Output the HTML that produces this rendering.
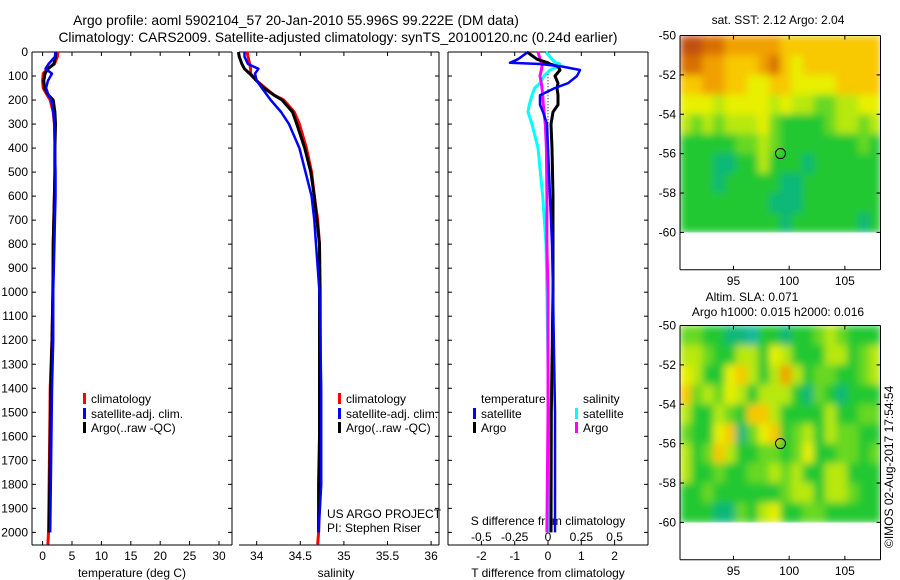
<!DOCTYPE html>
<html><head><meta charset="utf-8"><style>
body{margin:0;background:#fff}
svg{display:block;font-family:"Liberation Sans",sans-serif}
text{font-size:12px;fill:#000}
</style></head><body>
<svg id="fig" width="900" height="580" viewBox="0 0 900 580" xmlns="http://www.w3.org/2000/svg">
<defs>
<filter id="blur" x="0" y="0" width="1" height="1"><feGaussianBlur stdDeviation="4" edgeMode="duplicate"/></filter>
<clipPath id="clipTop"><rect x="680" y="35.5" width="200.5" height="197"/></clipPath>
<clipPath id="clipBot"><rect x="680" y="325.5" width="200.5" height="197"/></clipPath>
</defs>
<text x="296" y="25" text-anchor="middle" style="font-size:13.8px">Argo profile: aoml 5902104_57 20-Jan-2010 55.996S 99.222E (DM data)</text>
<text x="338" y="42" text-anchor="middle" style="font-size:13.8px">Climatology: CARS2009. Satellite-adjusted climatology: synTS_20100120.nc (0.24d earlier)</text>
<g id="g"></g>
</svg>
<script>
// ---------- data ----------
const depths = [0,20,50,70,90,120,150,180,200,250,300,400,500,600,700,800,1000,1200,1400,1600,1800,2000,2050];
const tempClim = [2.6,2.5,2.0,0.8,0.1,0.0,0.1,0.8,1.3,1.8,2.0,2.1,2.1,2.0,1.9,1.8,1.75,1.6,1.3,1.2,1.1,1.0,0.9];
const tempArgo = [2.2,2.2,1.9,0.9,0.4,0.2,0.3,1.0,1.8,2.1,2.2,2.1,2.1,2.0,1.9,1.8,1.75,1.6,1.4,1.3,1.2,1.1,null];
const tempSat  = [2.2,2.1,1.0,0.5,1.6,0.9,0.6,1.0,1.5,1.8,2.0,2.1,2.2,2.2,2.1,2.0,1.8,1.8,1.6,1.5,1.4,1.3,null];
const salClim = [33.89,33.9,33.92,33.93,33.93,34.0,34.1,34.2,34.31,34.43,34.49,34.57,34.63,34.66,34.70,34.72,34.73,34.73,34.73,34.73,34.72,34.71,34.70];
const salArgo = [33.79,33.8,33.83,33.86,33.92,34.0,34.08,34.2,34.29,34.41,34.46,34.55,34.62,34.66,34.69,34.72,34.72,34.72,34.72,34.72,34.71,34.71,null];
const salSat  = [33.86,33.86,33.9,34.02,33.98,34.0,34.06,34.12,34.16,34.28,34.37,34.49,34.56,34.63,34.66,34.68,34.72,34.73,34.74,34.74,34.74,34.71,null];
const diffDepths = [0,30,45,50,60,75,100,130,150,180,220,250,300,400,600,800,1000,1500,2000];
const dTsat  = [-0.6,-0.9,-1.14,-0.24,0.4,0.96,0.87,0.6,0.21,-0.24,-0.24,-0.15,-0.03,0,0.06,0.12,0.15,0.21,0.21];
const dTargo = [-0.63,-0.33,0.0,0.06,0.3,0.36,0.21,0.3,0.27,0.3,0.3,0.15,0.09,0.12,0.15,0.15,0.15,0.1,0.09];
const dSsat  = [-0.015,0.03,0.06,0.09,0.08,0.015,-0.03,-0.06,-0.1,-0.12,-0.14,-0.15,-0.12,-0.075,-0.04,-0.015,-0.008,0.005,0.008];
const dSargo = [-0.075,-0.06,-0.05,-0.045,-0.045,-0.05,-0.06,-0.05,-0.045,-0.04,-0.035,-0.03,-0.02,-0.012,-0.008,-0.008,0,0,-0.008];
const depthTicks = [0,100,200,300,400,500,600,700,800,900,1000,1100,1200,1300,1400,1500,1600,1700,1800,1900,2000];
const tempTicks = [0,5,10,15,20,25,30];
const salTicks = [34,34.5,35,35.5,36];
const salTickLabels = ["34","34.5","35","35.5","36"];
const tdTicks = [-2,-1,0,1,2];
const sdTicks = [-0.5,-0.25,0,0.25,0.5];
const sdTickLabels = ["-0.5","-0.25","0","0.25","0.5"];
const lonTicks = [95,100,105];
const latTicks = [-50,-52,-54,-56,-58,-60];
// SST map colour levels (rows -50 -> -60, cols 90.2 -> 108.2)
const sstGrid = [
[10,10,9,9,8,8,8,8,8,7,7,7,7,7,7,7,7,7],
[9,9,8,8,7,7,7,8,9,7,6,7,7,7,7,7,7,7],
[7,7,8,8,7,7,6,6,7,7,6,6,6,6,7,7,7,7],
[6,6,6,5,6,6,6,6,5,6,5,5,4,4,5,5,6,6],
[5,4,5,4,5,5,5,6,4,3,3,3,3,4,5,5,4,5],
[3,3,3,3,3,4,4,5,4,3,3,3,3,3,3,3,4,3],
[3,3,3,2,2,3,3,5,3,3,3,2,3,3,3,3,3,3],
[3,3,3,2,3,3,3,3,3,2,2,3,3,3,3,3,3,3],
[3,3,3,3,3,3,3,3,2,2,2,3,3,3,3,3,3,3],
[3,3,3,3,3,3,3,3,3,2,3,3,3,3,3,3,2,3]];
const slaGrid = [
[4,4,3,3,2,2,1,3,3,2,3,3,4,5,4,3,3,3],
[5,5,4,3,3,5,5,3,6,5,3,3,3,5,5,3,4,5],
[6,5,3,3,6,7,5,3,5,8,5,3,4,4,3,3,4,5],
[7,4,5,4,6,5,3,5,5,5,3,2,4,3,2,3,3,3],
[5,3,3,5,4,3,7,7,5,3,3,3,3,5,3,3,4,4],
[4,3,3,6,7,2,4,6,7,3,4,5,3,5,4,4,3,3],
[5,3,4,7,5,3,3,4,4,3,4,6,3,3,4,4,3,4],
[5,3,3,4,3,3,4,4,5,4,5,3,3,5,5,3,3,3],
[3,3,4,3,3,3,3,3,3,4,5,5,3,5,5,4,3,3],
[3,3,3,2,2,4,3,5,6,3,3,4,4,3,3,3,3,3]];
const floatLon = 99.222, floatLat = -55.996;

// ---------- helpers ----------
const NS="http://www.w3.org/2000/svg";
const G=document.getElementById('g');
function mk(tag,attrs,parent){const e=document.createElementNS(NS,tag);for(const k in attrs)e.setAttribute(k,attrs[k]);(parent||G).appendChild(e);return e;}
function txt(x,y,s,anchor,name){const t=mk('text',{x:x,y:y,'text-anchor':anchor||'start'});t.textContent=s;


return t;}
const Y=d=>52+d*0.2402;
const xT=v=>42.6+v*5.88;
const xS=v=>256.7+(v-34)*87.2;
const xD=v=>548+v*33.3;     // T difference
const xSD=v=>548+v*133.3;   // S difference
function line(x1,y1,x2,y2,name,w){const l=mk('line',{x1,y1,x2,y2,stroke:'#000','stroke-width':w||1});


return l;}
function profile(vals,ds,xf,color,w,name){
  const pts=[];vals.forEach((v,i)=>{if(v!==null)pts.push(xf(v).toFixed(1)+','+Y(ds[i]).toFixed(1));});
  const p=mk('polyline',{points:pts.join(' '),fill:'none',stroke:color,'stroke-width':w,'stroke-linejoin':'round'});
  
  
}
// ---------- panel frames ----------
line(32,52,32,545,'temp-left-axis');line(32,52,232,52,'temp-top-axis');line(232,52,232,545,'temp-right-axis');line(32,545,232,545,'temp-bottom-axis');
line(239,52,439,52,'sal-top-axis');line(439,52,439,545,'sal-right-axis');line(239,545,439,545,'sal-bottom-axis');
line(448,52,648,52,'diff-top-axis');line(448,52,448,545,'diff-left-axis');line(648,52,648,545,'diff-right-axis');line(448,545,648,545,'diff-bottom-axis');
depthTicks.forEach(d=>{const y=Y(d);
  txt(28,y+4,String(d),'end','depth-tick-label');
  line(32,y,36,y,'depth-tick');line(228,y,232,y,'depth-tick');line(435,y,439,y,'depth-tick');line(448,y,452,y,'depth-tick');line(644,y,648,y,'depth-tick');
});
tempTicks.forEach(t=>{const x=xT(t);line(x,545,x,541,'temp-tick');line(x,52,x,56,'temp-top-tick');txt(x,560,String(t),'middle','temp-tick-label');});
salTicks.forEach((s,i)=>{const x=xS(s);line(x,545,x,541,'sal-tick');line(x,52,x,56,'sal-top-tick');txt(x,560,salTickLabels[i],'middle','sal-tick-label');});
tdTicks.forEach(t=>{const x=xD(t);line(x,545,x,541,'tdiff-tick');txt(x,560,String(t),'middle','tdiff-tick-label');});
sdTicks.forEach((s,i)=>{const x=xSD(s);line(x,52,x,56,'sdiff-top-tick');txt(x,541,sdTickLabels[i],'middle','sdiff-tick-label');});
txt(132,577,'temperature (deg C)','middle','temp-axis-title');
txt(336,577,'salinity','middle','sal-axis-title');
txt(548,577,'T difference from climatology','middle','tdiff-axis-title');
txt(548,525,'S difference from climatology','middle','sdiff-axis-title');
// zero line dotted
const z=mk('line',{x1:xD(0),y1:Y(80),x2:xD(0),y2:Y(620),stroke:'#000','stroke-width':1,'stroke-dasharray':'1,2'});


// ---------- series ----------
profile(tempClim,depths,xT,'#ff0000',3,'temp-climatology-line');
profile(tempArgo,depths,xT,'#000',3,'temp-argo-line');
profile(tempSat,depths,xT,'#0000ff',2.5,'temp-satellite-line');
profile(salClim,depths,xS,'#ff0000',3,'sal-climatology-line');
profile(salArgo,depths,xS,'#000',3,'sal-argo-line');
profile(salSat,depths,xS,'#0000ff',2.5,'sal-satellite-line');
profile(dSsat,diffDepths,xSD,'#00ffff',3,'sdiff-satellite-line');
profile(dSargo,diffDepths,xSD,'#ff00ff',3,'sdiff-argo-line');
profile(dTargo,diffDepths,xD,'#000',3,'tdiff-argo-line');
profile(dTsat,diffDepths,xD,'#0000ff',2.5,'tdiff-satellite-line');
// ---------- legends ----------
function leg(x,y,color,label,name){const r=mk('rect',{x:x,y:y-10,width:3,height:11,fill:color});


txt(x+8,y,label,'start',name+'-label');}
leg(83,403,'#ff0000','climatology','temp-legend-climatology');
leg(83,418,'#0000ff','satellite-adj. clim.','temp-legend-satellite');
leg(83,432,'#000','Argo(..raw -QC)','temp-legend-argo');
leg(338,403,'#ff0000','climatology','sal-legend-climatology');
leg(338,418,'#0000ff','satellite-adj. clim.','sal-legend-satellite');
leg(338,432,'#000','Argo(..raw -QC)','sal-legend-argo');
txt(481,403,'temperature','start','diff-legend-temperature-heading');
txt(583,403,'salinity','start','diff-legend-salinity-heading');
leg(473,418,'#0000ff','satellite','diff-legend-t-satellite');
leg(473,432,'#000','Argo','diff-legend-t-argo');
leg(575,418,'#00ffff','satellite','diff-legend-s-satellite');
leg(575,432,'#ff00ff','Argo','diff-legend-s-argo');
txt(327,518,'US ARGO PROJECT','start','project-label');
txt(327,532,'PI: Stephen Riser','start','pi-label');
// ---------- maps ----------
const palette=['#10a8a8','#18b8a0','#10b878','#20c830','#68d820','#b8e810','#e8f000','#f8c800','#f0a000','#d87000','#c05010'];
function map(top,grid,name,clip){
  const L=680,R=880.5,lon0=90.2,lon1=108.2;
  const mx=v=>L+(v-lon0)*(R-L)/(lon1-lon0);
  const my=v=>top+(-50-v)*19.69;
  const outer=mk('g',{'clip-path':'url(#'+clip+')'});
  
  
  const g=mk('g',{filter:'url(#blur)'},outer);
  
  
  grid.forEach((row,i)=>row.forEach((c,j)=>{
    const r=mk('rect',{x:mx(lon0+j).toFixed(1),y:my(-50-i).toFixed(1),width:((R-L)/18+0.6).toFixed(1),height:20.3,fill:palette[c]},g);
    
    
  }));
  const bottom=my(-61.9);
  line(L,top,R,top,name+'-top-axis');line(L,top,L,bottom,name+'-left-axis');line(R,top,R,bottom,name+'-right-axis');line(L,bottom,R,bottom,name+'-bottom-axis');
  latTicks.forEach(v=>{const y=my(v);line(L,y,L+4,y,name+'-lat-tick');line(R-4,y,R,y,name+'-lat-tick');txt(676,y+4,String(v),'end',name+'-lat-label');});
  lonTicks.forEach(v=>{const x=mx(v);line(x,bottom,x,bottom-4,name+'-lon-tick');line(x,top,x,top+4,name+'-lon-tick');txt(x,bottom+15,String(v),'middle',name+'-lon-label');});
  const c=mk('circle',{cx:mx(floatLon),cy:my(floatLat),r:5,fill:'none',stroke:'#000','stroke-width':1});
  
  
}
map(35.5,sstGrid,'sst-map','clipTop');
map(325.5,slaGrid,'sla-map','clipBot');
txt(778,24,'sat. SST: 2.12 Argo: 2.04','middle','sst-map-title');
txt(752,301,'Altim. SLA: 0.071','middle','sla-map-title');
txt(778,316,'Argo h1000: 0.015 h2000: 0.016','middle','sla-map-subtitle');
const stamp=txt(0,0,'©IMOS 02-Aug-2017 17:54:54','start','imos-timestamp');
stamp.setAttribute('transform','translate(893,548) rotate(-90)');
</script>
</body></html>
